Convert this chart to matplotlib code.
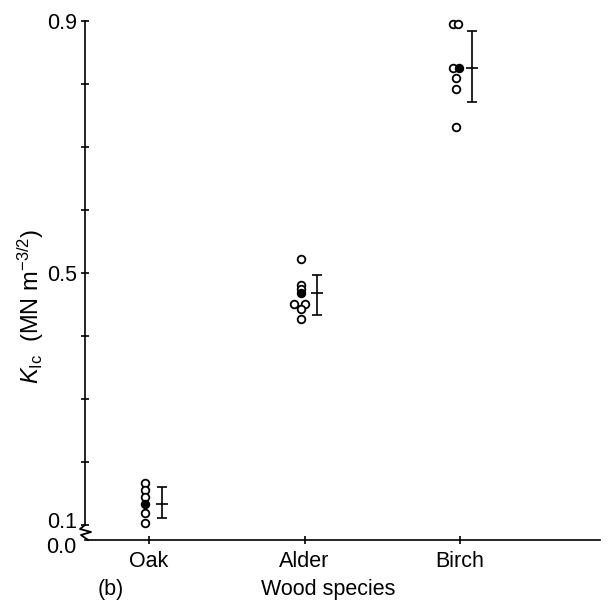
import matplotlib
matplotlib.use("Agg")
import matplotlib.pyplot as plt
from matplotlib.transforms import ScaledTranslation

plt.rcParams['font.family'] = ['Liberation Sans', 'DejaVu Sans']
plt.rcParams['mathtext.fontset'] = 'custom'
plt.rcParams['mathtext.rm'] = 'Liberation Sans'
plt.rcParams['mathtext.it'] = 'Liberation Sans:italic'

species = ['Oak', 'Alder', 'Birch']

# individual K_Ic measurements (MN m^-3/2) and small sideways jitter
oak_vals = [0.167, 0.156, 0.144, 0.119, 0.103]
oak_jit = [0, 0, 0, 0, 0]
alder_vals = [0.522, 0.481, 0.475, 0.451, 0.451, 0.443, 0.427]
alder_jit = [0, 0, 0, -0.04, 0.025, 0, 0]
birch_vals = [0.895, 0.895, 0.825, 0.809, 0.792, 0.731]
birch_jit = [-0.02, 0.01, -0.02, 0, 0, 0]

means = [0.133, 0.468, 0.825]
err_lo = [0.111, 0.433, 0.771]
err_hi = [0.160, 0.497, 0.884]

vals = [oak_vals, alder_vals, birch_vals]
jits = [oak_jit, alder_jit, birch_jit]
mean_jit = [0, 0, 0.02]

fs = 15.5

fig = plt.figure(figsize=(6.08, 6.02), dpi=100)
ax = fig.add_axes([85/608, 62/602, 515/608, 519/602])

ybot = 0.1 - 15/630
ax.set_ylim(ybot, 0.9)
ax.set_xlim(0.588, 3.90)

for i in range(3):
    xc = i + 1 - 0.025
    xs = [xc + j for j in jits[i]]
    ax.plot(xs, vals[i], 'o', ms=5.5, mfc='white', mec='black', mew=1.3,
            clip_on=False, zorder=3)
    ax.plot([xc + mean_jit[i]], [means[i]], 'o', ms=5.5, mfc='black', mec='black',
            mew=1.3, clip_on=False, zorder=4)
    xe = i + 1 + 0.08
    ax.errorbar([xe], [means[i]],
                yerr=[[means[i] - err_lo[i]], [err_hi[i] - means[i]]],
                fmt='none', ecolor='black', elinewidth=1.2, capsize=3.5, capthick=1.2)
    ax.plot([xe], [means[i]], marker='_', ms=8, mew=1.2, color='black')

for s in ['top', 'right']:
    ax.spines[s].set_visible(False)
ax.spines['left'].set_bounds(0.1, 0.9)
ax.spines['left'].set_linewidth(1.2)
ax.spines['bottom'].set_linewidth(1.2)

# zigzag break between 0.1 and 0.0
wpx, hpx = 515, 519
zx = [0, -5, 6, -4, 3, 3]
zy = [15, 11, 8, 5, 0, 0]
ax.plot([x / wpx for x in zx], [y / hpx for y in zy], color='black', lw=1.3,
        transform=ax.transAxes, clip_on=False)

ax.set_yticks([ybot, 0.1, 0.5, 0.9])
ax.set_yticklabels(['0.0', '0.1', '0.5', '0.9'])
ax.set_yticks([0.2, 0.3, 0.4, 0.6, 0.7, 0.8], minor=True)
ax.tick_params(axis='y', which='both', direction='inout', length=6, width=1.2,
               labelsize=fs, pad=3)
ax.yaxis.get_major_ticks()[0].tick1line.set_visible(False)
lbls = ax.get_yticklabels()
lbls[0].set_transform(lbls[0].get_transform() + ScaledTranslation(0, -5/100, fig.dpi_scale_trans))
lbls[1].set_transform(lbls[1].get_transform() + ScaledTranslation(0, 5/100, fig.dpi_scale_trans))

ax.set_xticks([1, 2, 3])
ax.set_xticklabels(species)
ax.tick_params(axis='x', direction='inout', length=6, width=1.2, labelsize=fs, pad=5)

ax.set_ylabel(r'$K_{\rm Ic}$  (MN m$^{-3/2}$)', fontsize=17)
ax.yaxis.set_label_coords(-0.075, 0.45)

fig.text(111/608, 1 - 589/602, '(b)', fontsize=fs, ha='center', va='center')
fig.text(328/608, 1 - 589/602, 'Wood species', fontsize=fs, ha='center', va='center')

fig.savefig('out.png', dpi=100)
